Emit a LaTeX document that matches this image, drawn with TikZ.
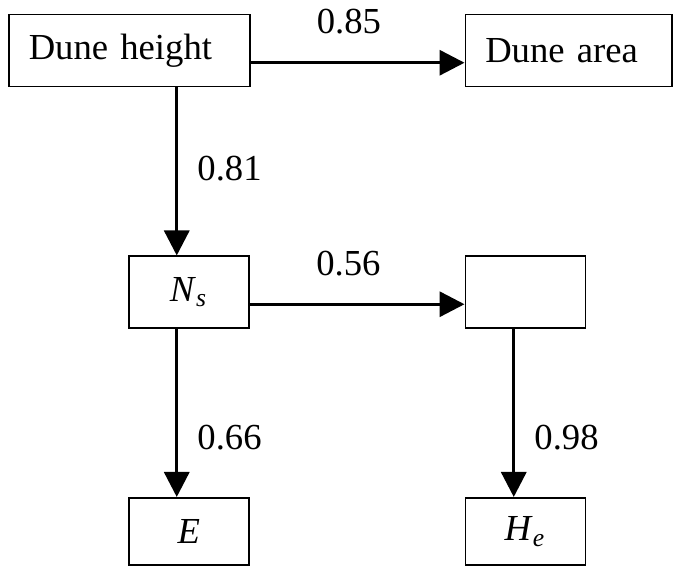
\documentclass[tikz,border=0pt]{standalone}
\usepackage{fontspec}
\setmainfont{Liberation Serif}
\usetikzlibrary{positioning, arrows.meta}
\tikzstyle{arrow} = [line width=1pt, -{Triangle[length=7.5pt, width=7.5pt]}]

\begin{document}
\begin{tikzpicture}[
    box/.style={rectangle, draw, line width=0.45pt, minimum height=21.6pt,
                inner sep=0pt, font=\fontsize{11}{13}\selectfont},
    namebox/.style={box, align=left, text width=#1, inner xsep=6pt},
    varbox/.style={box, minimum width=36pt},
    coef/.style={inner sep=0pt, font=\fontsize{11}{13}\selectfont}
]
\useasboundingbox (0,0) rectangle (202.2pt,-170pt);

% --- top row ---
\node[namebox=60.3pt, anchor=north west] (dh) at (2.4pt,-4.2pt) {Dune height};
\node[namebox=50pt, right=64.2pt of dh] (da) {Dune area};

% --- middle row ---
\node[varbox, below right=50.4pt and 36pt of dh.south west] (ns)
    {\textit{N}\textsubscript{\textit{s}}};
\node[varbox, anchor=west] (mid) at (ns.west -| da.west) {};

% --- bottom row ---
\node[varbox, minimum height=20.2pt, below=50.4pt of ns] (e) {\textit{E}};
\node[varbox, minimum height=20.2pt, below=50.4pt of mid] (he)
    {\textit{H}\textsubscript{\textit{e}}};

% --- path coefficients ---
\draw[arrow] ([yshift=-3.6pt]dh.east) -- ([yshift=-3.6pt]dh.east -| da.west)
    node[coef, midway, above=8pt, xshift=-2.6pt] (c1) {0.85};
\draw[arrow] ([xshift=-3.6pt]ns.north |- dh.south) -- ([xshift=-3.6pt]ns.north)
    node[coef, midway, right=5.7pt, yshift=0.9pt] (c2) {0.81};
\draw[arrow] ([yshift=-3.6pt]ns.east) -- ([yshift=-3.6pt]ns.east -| mid.west)
    node[coef, midway, above=8pt, xshift=-2.6pt] (c3) {0.56};
\draw[arrow] ([xshift=-3.6pt]ns.south) -- ([xshift=-3.6pt]e.north)
    node[coef, midway, right=5.7pt, yshift=-7.5pt] (c4) {0.66};
\draw[arrow] ([xshift=-3.45pt]mid.south) -- ([xshift=-3.45pt]he.north)
    node[coef, midway, right=5.7pt, yshift=-7.5pt] (c5) {0.98};

\end{tikzpicture}
\end{document}
